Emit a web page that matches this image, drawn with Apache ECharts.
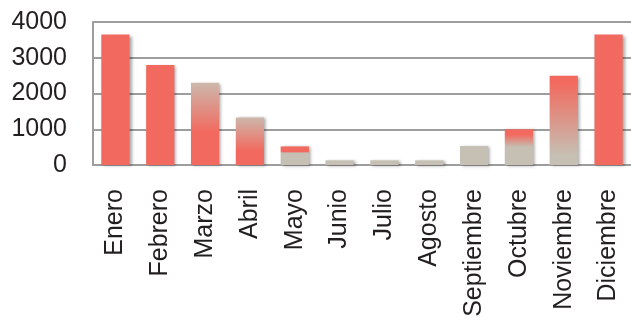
<!DOCTYPE html>
<html><head><meta charset="utf-8">
<script src="https://cdn.jsdelivr.net/npm/echarts@6/dist/echarts.min.js"></script>
<style>html,body{margin:0;padding:0;background:#fff}#c{width:631px;height:324px}</style>
</head><body><div id="c"></div>
<script>
const categories = ['Enero','Febrero','Marzo','Abril','Mayo','Junio','Julio','Agosto','Septiembre','Octubre','Noviembre','Diciembre'];
const values = [3650, 2800, 2300, 1330, 520, 130, 130, 130, 530, 1000, 2500, 3650];
const yTicks = [0, 1000, 2000, 3000, 4000];

const RED = '#F26A5F', GREY = '#C5C0B3';
function grad(stops){ return {type:'linear',x:0,y:0,x2:0,y2:1,colorStops:stops.map(s=>({offset:s[0],color:s[1]}))}; }
const fills = [
  RED, RED,
  grad([[0,'#CDB8AC'],[0.6,RED],[1,RED]]),
  grad([[0,'#CDB8AC'],[0.7,RED],[1,RED]]),
  grad([[0,RED],[0.28,RED],[0.36,GREY],[1,GREY]]),
  GREY, GREY, GREY, GREY,
  grad([[0,RED],[0.15,RED],[0.5,GREY],[1,GREY]]),
  grad([[0,RED],[0.08,RED],[0.9,GREY],[1,GREY]]),
  RED
];

const chart = echarts.init(document.getElementById('c'), null, {renderer:'canvas'});
const lineColor = '#9d9d9d';
const font = '"Liberation Sans", Arial, sans-serif';
chart.setOption({
  animation:false,
  grid:{left:93, top:22, width:540, height:143},
  xAxis:{
    type:'category', data:categories,
    axisLine:{show:true, lineStyle:{color:lineColor, width:2}},
    axisTick:{show:false},
    axisLabel:{interval:0, rotate:90, margin:24, fontSize:25, color:'#231f20', fontFamily:font}
  },
  yAxis:{
    type:'value', min:yTicks[0], max:yTicks[yTicks.length-1], interval:1000,
    axisLine:{show:true, lineStyle:{color:lineColor, width:2}},
    axisTick:{show:false},
    splitLine:{lineStyle:{color:lineColor, width:2}},
    axisLabel:{margin:26, fontSize:25, color:'#231f20', fontFamily:font, formatter:v=>String(v)}
  },
  series:[{
    type:'bar', barCategoryGap:'37%',
    data: values.map((v,i)=>({value:v, itemStyle:{color:fills[i]}})),
    itemStyle:{shadowColor:'rgba(0,0,0,0.35)', shadowBlur:3, shadowOffsetX:2, shadowOffsetY:1}
  }]
});
</script></body></html>
